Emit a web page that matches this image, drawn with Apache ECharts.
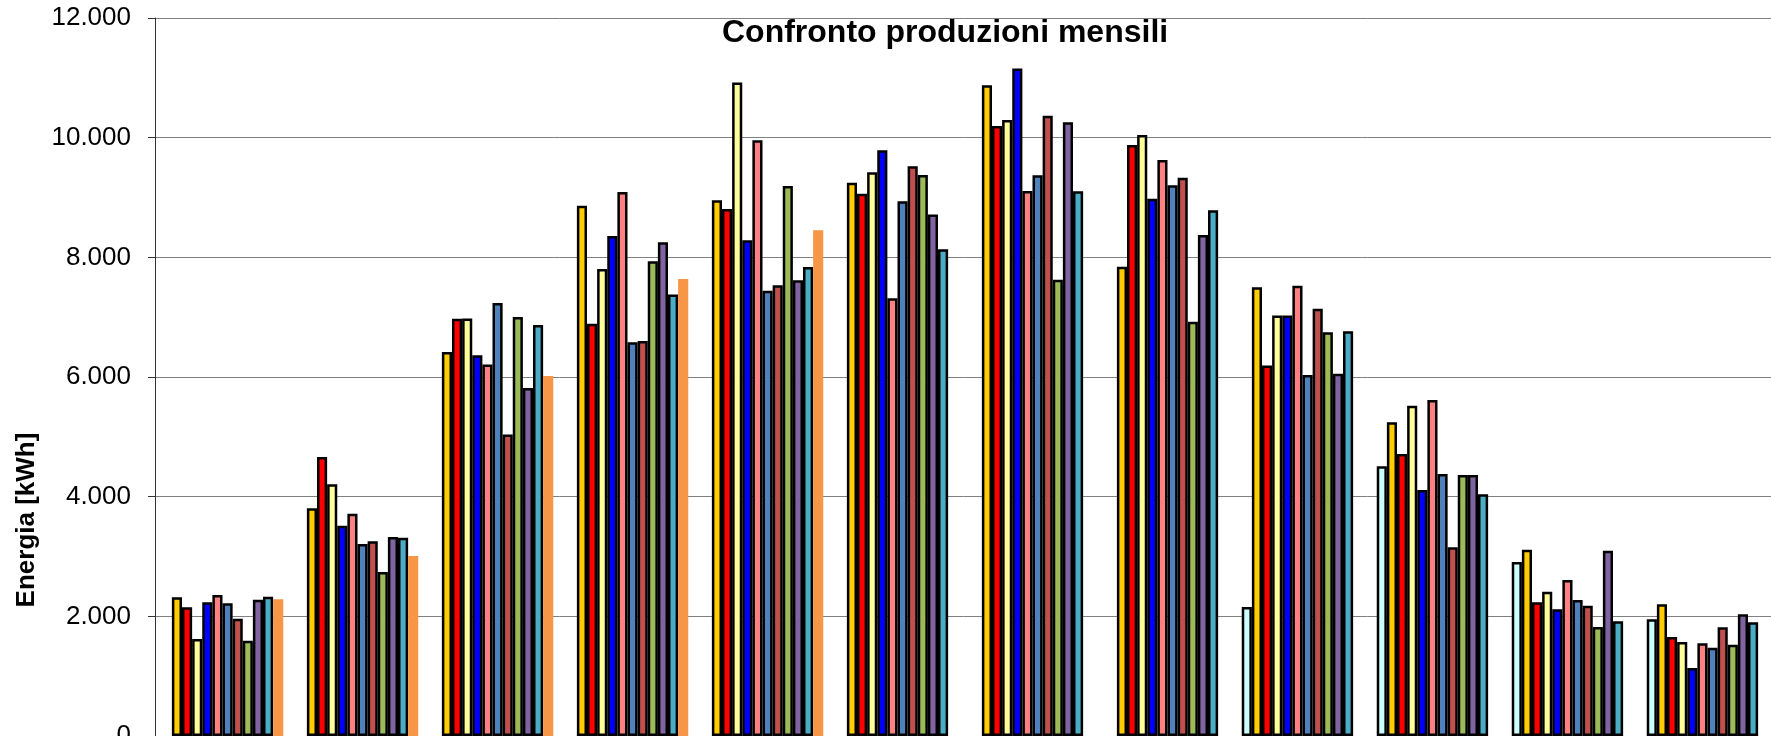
<!DOCTYPE html>
<html>
<head>
<meta charset="utf-8">
<title>Confronto produzioni mensili</title>
<script src="https://cdn.jsdelivr.net/npm/echarts@6/dist/echarts.min.js"></script>
<style>
    html, body { margin: 0; padding: 0; background: #fff; }
    #produzione { width: 1771px; height: 736px; }
</style>
</head>
<body>
<div id="produzione"></div>
<script>
// mesi e produzioni (kWh) per anno
var mesi = ['Gen', 'Feb', 'Mar', 'Apr', 'Mag', 'Giu', 'Lug', 'Ago', 'Set', 'Ott', 'Nov', 'Dic'];
var anni = ['2009', '2010', '2011', '2012', '2013', '2014', '2015', '2016', '2017', '2018', '2019', '2020'];

var anno2009 = [null, null, null, null, null, null, null, null, 2156, 4507, 2908, 1950];
var anno2010 = [2318, 3805, 6418, 8864, 8953, 9248, 10875, 7844, 7501, 5242, 3114, 2201];
var anno2011 = [2151, 4663, 6973, 6892, 8808, 9064, 10196, 9878, 6191, 4713, 2234, 1655];
var anno2012 = [1621, 4206, 6978, 7806, 10920, 9421, 10296, 10045, 7027, 5521, 2412, 1571];
var anno2013 = [2234, 3516, 6363, 8357, 8285, 9789, 11154, 8981, 7027, 4112, 2117, 1137];
var anno2014 = [2357, 3716, 6207, 9092, 9956, 7315, 9109, 9627, 7523, 5616, 2607, 1549];
var anno2015 = [2218, 3209, 7236, 6580, 7443, 8936, 9371, 9204, 6034, 4379, 2273, 1476];
var anno2016 = [1961, 3254, 5037, 6602, 7532, 9521, 10368, 9332, 7140, 3153, 2178, 1816];
var anno2017 = [1593, 2741, 7001, 7934, 9193, 9377, 7627, 6925, 6748, 4362, 1822, 1527];
var anno2018 = [2279, 3326, 5817, 8251, 7616, 8714, 10257, 8374, 6056, 4362, 3097, 2034];
var anno2019 = [2329, 3315, 6869, 7377, 7839, 8134, 9104, 8786, 6763, 4039, 1917, 1900];
var anno2020 = [2284, 3009, 6017, 7638, 8452, null, null, null, null, null, null, null];

var yTicks = [0, 2000, 4000, 6000, 8000, 10000, 12000];

var produzioni = [anno2009, anno2010, anno2011, anno2012, anno2013, anno2014,
    anno2015, anno2016, anno2017, anno2018, anno2019, anno2020];
var colori = ['#CCFFFF', '#FFCC00', '#FF0000', '#FFFF99', '#0000FF', '#FF8080',
    '#4F81BD', '#C0504D', '#9BBB59', '#8064A2', '#4BACC6', '#F79646'];

var font = "'Liberation Sans', Arial, sans-serif";

var chart = echarts.init(document.getElementById('produzione'));

// separatore migliaia all'italiana
function formatIt(v) {
    return String(v).replace(/\B(?=(\d{3})+(?!\d))/g, '.');
}

var series = produzioni.map(function (dati, i) {
    var ultimo = i === produzioni.length - 1;
    return {
        name: anni[i],
        type: 'bar',
        barGap: '0%',
        barCategoryGap: '10%',
        itemStyle: {
            color: colori[i],
            borderColor: ultimo ? 'transparent' : '#000',
            borderWidth: ultimo ? 0 : 2.5
        },
        emphasis: { disabled: true },
        data: dati
    };
});

var option = {
    backgroundColor: '#fff',
    animation: false,
    color: colori,
    title: {
        text: 'Confronto produzioni mensili',
        left: 717,
        top: 12,
        textStyle: {
            color: '#000',
            fontFamily: font,
            fontWeight: 'bold',
            fontSize: 32
        }
    },
    grid: {
        left: 155,
        top: 18,
        width: 1620,
        height: 718,
        containLabel: false,
        outerBoundsMode: 'none'
    },
    xAxis: {
        type: 'category',
        data: mesi,
        axisLine: { lineStyle: { color: '#bbb' } },
        axisTick: { show: false },
        axisLabel: { show: false }
    },
    yAxis: {
        type: 'value',
        min: yTicks[0],
        max: yTicks[yTicks.length - 1],
        interval: yTicks[1] - yTicks[0],
        axisLine: { show: true, lineStyle: { color: '#333', width: 1 } },
        axisTick: { show: true, length: 7, lineStyle: { color: '#333' } },
        splitLine: { show: true, lineStyle: { color: '#808080', width: 1 } },
        axisLabel: {
            color: '#000',
            fontFamily: font,
            fontSize: 26,
            margin: 24,
            formatter: formatIt
        }
    },
    graphic: [{
        type: 'text',
        x: 27,
        y: 520,
        rotation: Math.PI / 2,
        style: {
            text: 'Energia [kWh]',
            fill: '#000',
            font: 'bold 26px ' + font,
            align: 'center',
            verticalAlign: 'middle'
        }
    }],
    series: series
};

chart.setOption(option);
window.addEventListener('resize', function () {
    chart.resize();
});
</script>
</body>
</html>
